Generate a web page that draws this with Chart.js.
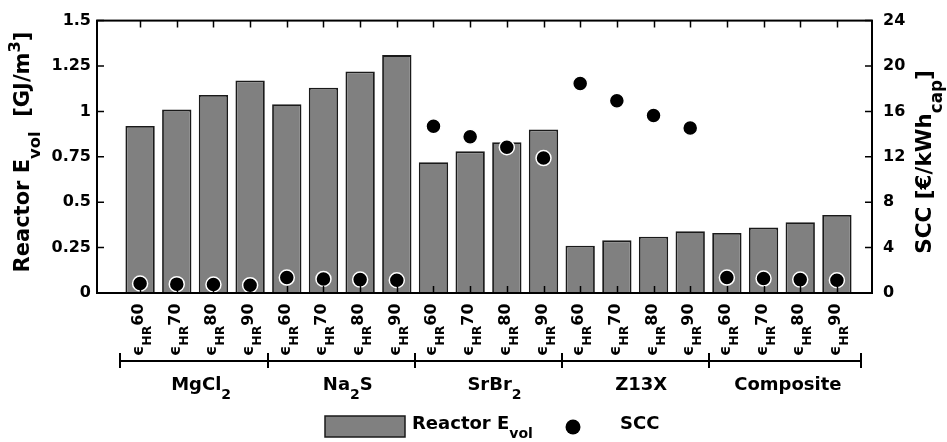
<!DOCTYPE html>
<html><head><meta charset="utf-8">
<script src="https://cdn.jsdelivr.net/npm/chart.js@4"></script>
<style>html,body{margin:0;padding:0;background:#fff;overflow:hidden}#wrap{width:947px;height:442px;position:relative}</style>
</head><body><div id="wrap"><canvas id="c" width="947" height="442"></canvas></div>
<script>
// ---- data ----
const materials = ['MgCl_{2}', 'Na_{2}S', 'SrBr_{2}', 'Z13X', 'Composite'];
const heatRecovery = ['60', '70', '80', '90'];
const categories = materials.flatMap(m => heatRecovery.map(h => m + ' ϵ_{HR}' + h));
const reactorEvol = [0.92, 1.01, 1.09, 1.17, 1.04, 1.13, 1.22, 1.31, 0.72, 0.78, 0.83, 0.90, 0.26, 0.29, 0.31, 0.34, 0.33, 0.36, 0.39, 0.43];
const scc = [0.84, 0.78, 0.75, 0.69, 1.36, 1.24, 1.18, 1.12, 14.7, 13.76, 12.84, 11.89, 18.45, 16.93, 15.63, 14.54, 1.36, 1.27, 1.18, 1.12];
const leftTicks = [0, 0.25, 0.5, 0.75, 1, 1.25, 1.5];
const leftTickLabels = ['0', '0.25', '0.5', '0.75', '1', '1.25', '1.5'];
const rightTicks = [0, 4, 8, 12, 16, 20, 24];
const rightTickLabels = ['0', '4', '8', '12', '16', '20', '24'];
const leftTitle = 'Reactor E_{vol}  [GJ/m^{3}]';
const rightTitle = 'SCC [€/kWh_{cap}]';
const legendLabels = ['Reactor E_{vol}', 'SCC'];

// ---- text helpers ----
const FAM = '"DejaVu Sans", sans-serif';
const f = s => `bold ${s}px ${FAM}`;
const SUB_RATIO = 0.78, SUB_SHIFT = 0.5, SUP_SHIFT = 0.45;
function segs(s) {
  const out = []; const re = /([_^])\{([^}]*)\}/g; let last = 0, m;
  while ((m = re.exec(s))) {
    if (m.index > last) out.push({ t: s.slice(last, m.index), mode: 0 });
    out.push({ t: m[2], mode: m[1] === '_' ? 1 : 2 }); last = re.lastIndex;
  }
  if (last < s.length) out.push({ t: s.slice(last), mode: 0 });
  return out;
}
function richW(ctx, s, size) {
  let w = 0;
  for (const g of segs(s)) { ctx.font = f(g.mode ? size * SUB_RATIO : size); w += ctx.measureText(g.t).width; }
  return w;
}
function richDraw(ctx, s, x, y, size, align) {
  let cx = align === 'center' ? x - richW(ctx, s, size) / 2 : x;
  ctx.textAlign = 'left'; ctx.textBaseline = 'alphabetic'; ctx.fillStyle = '#000';
  for (const g of segs(s)) {
    const sz = g.mode ? size * SUB_RATIO : size; ctx.font = f(sz);
    const dy = g.mode === 1 ? size * SUB_SHIFT : g.mode === 2 ? -size * SUP_SHIFT : 0;
    ctx.fillText(g.t, cx, y + dy); cx += ctx.measureText(g.t).width;
  }
}

const BAR_FILL = '#808080', BAR_EDGE = '#1a1a1a';

const decor = {
  id: 'decor',
  afterDatasetsDraw(chart) {
    const { ctx, chartArea: a, scales: { x, y, y1 } } = chart;
    ctx.save();
    ctx.strokeStyle = '#000';
    // tick marks (inside)
    ctx.lineWidth = 1.5;
    ctx.beginPath();
    categories.forEach((c, i) => {
      const px = Math.round(x.getPixelForValue(i)) + 0.5;
      ctx.moveTo(px, a.top); ctx.lineTo(px, a.top + 7);
      ctx.moveTo(px, a.bottom); ctx.lineTo(px, a.bottom - 7);
    });
    leftTicks.forEach(v => { const py = y.getPixelForValue(v); ctx.moveTo(a.left, py); ctx.lineTo(a.left + 7, py); });
    rightTicks.forEach(v => { const py = y1.getPixelForValue(v); ctx.moveTo(a.right, py); ctx.lineTo(a.right - 7, py); });
    ctx.stroke();
    // box
    ctx.lineWidth = 2;
    ctx.strokeRect(a.left, a.top, a.right - a.left, a.bottom - a.top);

    // rotated category labels
    categories.forEach((c, i) => {
      const px = x.getPixelForValue(i);
      const hr = heatRecovery[i % heatRecovery.length];
      ctx.save();
      ctx.translate(px + 3, 356);
      ctx.rotate(-Math.PI / 2);
      richDraw(ctx, 'ϵ_{HR}' + hr, 0, 0, 16, 'left');
      ctx.restore();
    });

    // group bracket
    const n = heatRecovery.length;
    const bounds = [-0.55];
    for (let g = 1; g < materials.length; g++) bounds.push(g * n - 0.5);
    bounds.push(materials.length * n - 0.35);
    const by = 361;
    ctx.lineWidth = 2;
    ctx.beginPath();
    ctx.moveTo(x.getPixelForValue(bounds[0]), by); ctx.lineTo(x.getPixelForValue(bounds[bounds.length - 1]), by);
    bounds.forEach(b => { const px = Math.round(x.getPixelForValue(b)); ctx.moveTo(px, by - 8); ctx.lineTo(px, by + 7); });
    ctx.stroke();

    // group labels
    materials.forEach((m, g) => {
      const cx = x.getPixelForValue(g * n + (n - 1) / 2) + 6;
      richDraw(ctx, m, cx, 390, 18, 'center');
    });

    // axis titles
    ctx.save(); ctx.translate(29, 152); ctx.rotate(-Math.PI / 2);
    richDraw(ctx, leftTitle, 0, 0, 21, 'center'); ctx.restore();
    ctx.save(); ctx.translate(931, 162); ctx.rotate(-Math.PI / 2);
    richDraw(ctx, rightTitle, 0, 0, 21.5, 'center'); ctx.restore();

    // legend
    ctx.fillStyle = BAR_FILL; ctx.strokeStyle = BAR_EDGE; ctx.lineWidth = 1.5;
    ctx.fillRect(325, 416, 80, 21); ctx.strokeRect(325, 416, 80, 21);
    richDraw(ctx, legendLabels[0], 412, 429, 18, 'left');
    ctx.beginPath(); ctx.fillStyle = '#000'; ctx.arc(573, 427, 7.5, 0, Math.PI * 2); ctx.fill();
    richDraw(ctx, legendLabels[1], 620, 429, 18, 'left');
    ctx.restore();
  }
};

const PLOT_L = 97, PLOT_R = 872, PLOT_T = 15, PLOT_B = 293;

new Chart(document.getElementById('c'), {
  type: 'bar',
  data: {
    datasets: [
      {
        type: 'line', label: 'SCC', yAxisID: 'y1', order: 0,
        data: scc.map((v, i) => ({ x: i, y: v })),
        showLine: false, pointRadius: 7.5, pointHoverRadius: 7.5,
        pointBackgroundColor: '#000', pointBorderColor: '#fff', pointBorderWidth: 1.5
      },
      {
        type: 'bar', label: 'Reactor E_vol', yAxisID: 'y', order: 1,
        data: reactorEvol.map((v, i) => ({ x: i, y: v })),
        backgroundColor: BAR_FILL, borderColor: BAR_EDGE, borderWidth: 1.8,
        barPercentage: 0.8, categoryPercentage: 1
      }
    ]
  },
  options: {
    responsive: false, animation: false,
    layout: { padding: { top: PLOT_T, bottom: 442 - PLOT_B, left: 0, right: 0 } },
    plugins: { legend: { display: false }, tooltip: { enabled: false } },
    scales: {
      x: { type: 'linear', min: -1.175, max: 19.957, offset: false, grace: 0, display: false },
      y: {
        position: 'left', min: 0, max: 1.5,
        afterFit: s => { s.width = PLOT_L; },
        afterBuildTicks: s => { s.ticks = leftTicks.map(v => ({ value: v })); },
        ticks: { callback: (v, i) => leftTickLabels[i], color: '#000', font: { family: FAM, weight: 'bold', size: 16 }, padding: 6 },
        grid: { display: false, drawTicks: false }, border: { display: false }
      },
      y1: {
        position: 'right', min: 0, max: 24,
        afterFit: s => { s.width = 947 - PLOT_R; },
        afterBuildTicks: s => { s.ticks = rightTicks.map(v => ({ value: v })); },
        ticks: { callback: (v, i) => rightTickLabels[i], color: '#000', font: { family: FAM, weight: 'bold', size: 16 }, padding: 11 },
        grid: { display: false, drawTicks: false }, border: { display: false }
      }
    }
  },
  plugins: [decor]
});
</script></body></html>
